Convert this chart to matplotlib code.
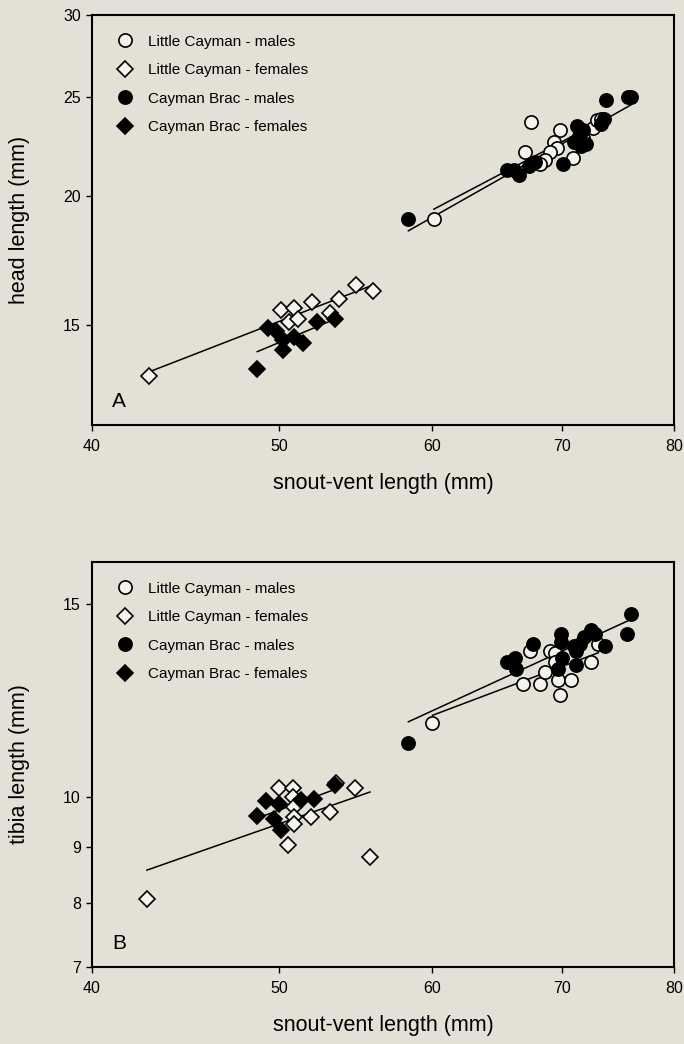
import matplotlib
matplotlib.use('Agg')
import matplotlib.pyplot as plt
import numpy as np
from matplotlib.ticker import FixedLocator, FixedFormatter, NullLocator

# panel A - head length
lc_m_svl_A = [60.1, 67.5, 67.0, 69.8, 69.3, 69.6, 69.0, 68.6, 68.2, 70.9, 71.8, 72.6, 73.0, 73.3]
lc_m_hl_A = [19.0, 23.6, 22.1, 23.2, 22.6, 22.3, 22.1, 21.7, 21.5, 21.8, 22.8, 23.3, 23.7, 23.8]
cb_m_svl_A = [58.3, 65.6, 66.1, 66.5, 67.3, 67.8, 70.1, 71.3, 71.4, 71.6, 71.8, 71.0, 72.0, 73.3, 73.6, 73.8, 75.7, 76.0]
cb_m_hl_A = [19.0, 21.2, 21.2, 21.0, 21.4, 21.6, 21.5, 23.4, 22.9, 22.4, 23.2, 22.6, 22.5, 23.5, 23.8, 24.8, 25.0, 25.0]
lc_f_svl_A = [42.8, 50.1, 50.9, 52.0, 53.7, 54.8, 55.9, 53.1, 50.6, 51.1]
lc_f_hl_A = [13.4, 15.5, 15.6, 15.8, 15.9, 16.4, 16.2, 15.4, 15.1, 15.2]
cb_f_svl_A = [48.7, 49.3, 49.8, 50.2, 50.2, 50.9, 51.4, 52.3, 53.4]
cb_f_hl_A = [13.6, 14.9, 14.8, 14.5, 14.2, 14.6, 14.4, 15.1, 15.2]

# panel B - tibia length
lc_m_svl_B = [60.0, 66.8, 68.2, 68.6, 67.4, 69.0, 69.4, 69.4, 69.7, 69.8, 70.8, 72.5, 73.1]
lc_m_tl_B = [11.7, 12.7, 12.7, 13.0, 13.6, 13.6, 13.55, 13.3, 12.8, 12.4, 12.8, 13.3, 13.8]
cb_m_svl_B = [58.3, 65.6, 66.2, 66.3, 67.6, 69.9, 69.9, 69.7, 71.2, 71.2, 71.5, 71.9, 72.5, 72.8, 73.7, 75.6, 76.0, 71.0, 70.0]
cb_m_tl_B = [11.2, 13.3, 13.4, 13.1, 13.8, 14.1, 13.85, 13.1, 13.2, 13.6, 13.8, 14.0, 14.2, 14.1, 13.75, 14.1, 14.7, 13.75, 13.4]
lc_f_svl_B = [42.7, 50.0, 50.8, 50.8, 50.9, 50.9, 50.9, 50.5, 51.9, 53.1, 53.5, 54.7, 55.7]
lc_f_tl_B = [8.08, 10.2, 10.2, 10.0, 9.8, 9.6, 9.45, 9.05, 9.6, 9.7, 10.3, 10.2, 8.82]
cb_f_svl_B = [48.7, 49.2, 49.7, 50.0, 50.1, 51.3, 52.1, 53.4]
cb_f_tl_B = [9.62, 9.93, 9.56, 9.85, 9.33, 9.95, 9.96, 10.27]

x_ticks = [40, 50, 60, 70, 80]
labels = ['Little Cayman - males', 'Little Cayman - females', 'Cayman Brac - males', 'Cayman Brac - females']

BG = '#e3e0d6'
OPEN = '#f5f3ee'


def fit_line(ax, x, y):
    # regression on log-log scale, drawn over the range of the group
    lx = np.log10(x)
    ly = np.log10(y)
    k, b = np.polyfit(lx, ly, 1)
    xs = np.linspace(min(lx), max(lx), 20)
    ax.plot(10 ** xs, 10 ** (k * xs + b), color='black', lw=1.1, zorder=2)


def panel(ax, groups, ylim, yticks, ylabel, letter):
    styles = [('o', OPEN, 9.5), ('D', OPEN, 8), ('o', 'black', 9.5), ('D', 'black', 8)]
    for (x, y), (m, fc, ms), lab in zip(groups, styles, labels):
        ax.plot(x, y, ls='none', marker=m, ms=ms, mfc=fc, mec='black', mew=1.2,
                label=lab, zorder=3)
    for x, y in groups:
        fit_line(ax, x, y)

    ax.set_xscale('log')
    ax.set_yscale('log')
    ax.set_xlim(40, 80)
    ax.set_ylim(*ylim)
    ax.xaxis.set_major_locator(FixedLocator(x_ticks))
    ax.xaxis.set_major_formatter(FixedFormatter([str(t) for t in x_ticks]))
    ax.xaxis.set_minor_locator(NullLocator())
    ax.yaxis.set_major_locator(FixedLocator(yticks))
    ax.yaxis.set_major_formatter(FixedFormatter([str(t) for t in yticks]))
    ax.yaxis.set_minor_locator(NullLocator())
    ax.tick_params(direction='out', length=4, width=1, labelsize=11.5, pad=4)
    ax.tick_params(axis='x', pad=6)
    ax.set_facecolor(BG)
    for s in ax.spines.values():
        s.set_linewidth(1.5)
    ax.set_xlabel('snout-vent length (mm)', fontsize=15.5, labelpad=14)
    ax.set_ylabel(ylabel, fontsize=15.5, labelpad=24)
    ax.text(0.035, 0.035, letter, transform=ax.transAxes, fontsize=15, ha='left', va='bottom')
    leg = ax.legend(loc='upper left', frameon=False, fontsize=11, handlelength=1.0,
                    handletextpad=1.0, labelspacing=0.95, borderaxespad=0.9,
                    bbox_to_anchor=(0.01, 1.0))
    return leg


def main():
    plt.rcParams['font.family'] = ['Liberation Sans', 'DejaVu Sans']
    fig = plt.figure(figsize=(6.84, 10.44), dpi=100, facecolor=BG)

    ax1 = fig.add_axes([0.1345, 0.593, 0.851, 0.3927])
    panel(ax1, [(lc_m_svl_A, lc_m_hl_A), (lc_f_svl_A, lc_f_hl_A),
                (cb_m_svl_A, cb_m_hl_A), (cb_f_svl_A, cb_f_hl_A)],
          (12, 30), [15, 20, 25, 30], 'head length (mm)', 'A')

    ax2 = fig.add_axes([0.1345, 0.0738, 0.851, 0.388])
    panel(ax2, [(lc_m_svl_B, lc_m_tl_B), (lc_f_svl_B, lc_f_tl_B),
                (cb_m_svl_B, cb_m_tl_B), (cb_f_svl_B, cb_f_tl_B)],
          (7, 16.4), [7, 8, 9, 10, 15], 'tibia length (mm)', 'B')

    fig.savefig('out.png', dpi=100, facecolor=BG)


if __name__ == '__main__':
    main()
